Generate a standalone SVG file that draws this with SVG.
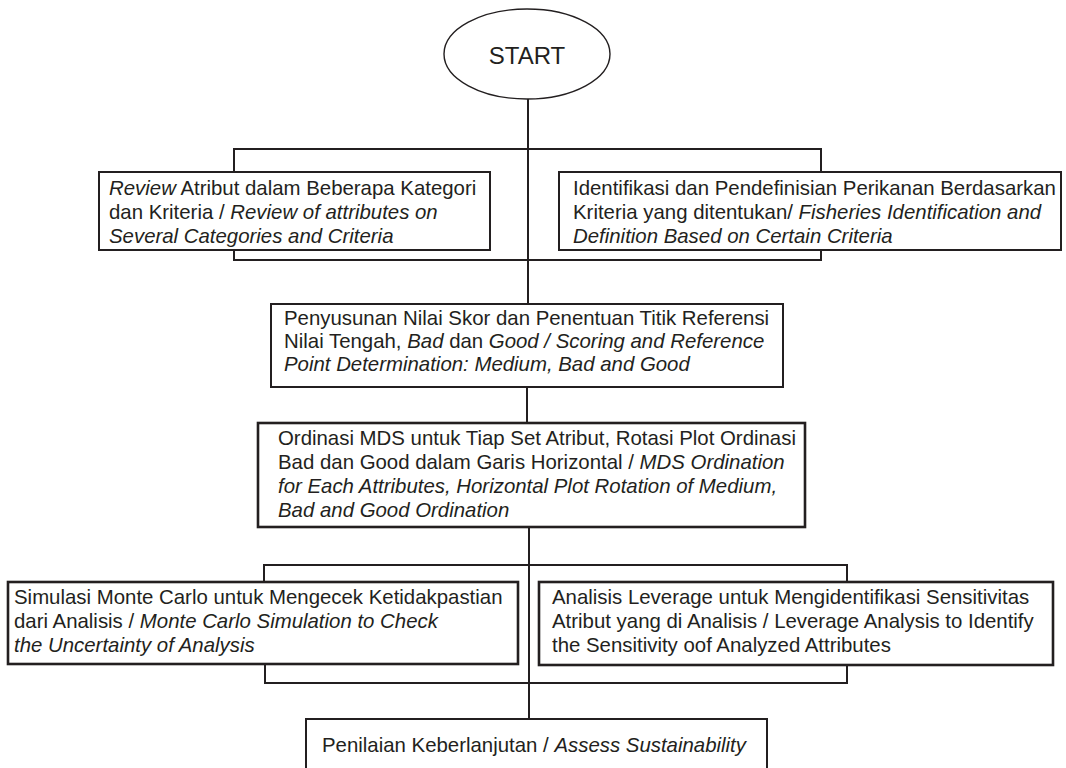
<svg xmlns="http://www.w3.org/2000/svg" width="1066" height="768" viewBox="0 0 1066 768">
  <style>
    .box { fill: #ffffff; stroke: #231f20; stroke-width: 2; }
    .box.heavy { stroke-width: 2.6; }
    .term { fill: #ffffff; stroke: #231f20; stroke-width: 1.4; }
    .wire { fill: none; stroke: #231f20; stroke-width: 2; }
    .t { font-family: "Liberation Sans", Arial, Helvetica, sans-serif; font-size: 20.4px; fill: #231f20; }
    .i { font-style: italic; }
    .start { font-family: "Liberation Sans", Arial, Helvetica, sans-serif; font-size: 24px; fill: #231f20; text-anchor: middle; }
  </style>
  <rect width="1066" height="768" fill="#ffffff"/>

  <!-- connectors: trunk, split/merge brackets between rows -->
  <g id="connectors" class="wire">
    <path d="M528 99 V304"/>
    <path d="M234 172 V149 H821 V172"/>
    <path d="M234 250 V260 H821 V250"/>
    <path d="M527 387 V423"/>
    <path d="M529 527 V719"/>
    <path d="M264 582 V565 H847 V582"/>
    <path d="M265 664 V683 H847 V665"/>
  </g>

  <g id="start">
    <ellipse class="term" cx="527" cy="54" rx="83" ry="45"/>
    <text class="start" x="527" y="64">START</text>
  </g>

  <g id="review">
    <rect class="box" x="99" y="172" width="391" height="78"/>
    <text class="t" x="109" y="195"><tspan class="i">Review</tspan> Atribut dalam Beberapa Kategori</text>
    <text class="t" x="109" y="219">dan Kriteria / <tspan class="i">Review of attributes on</tspan></text>
    <text class="t i" x="109" y="243">Several Categories and Criteria</text>
  </g>

  <g id="identifikasi">
    <rect class="box" x="559" y="172" width="502" height="78"/>
    <text class="t" x="573" y="195">Identifikasi dan Pendefinisian Perikanan Berdasarkan</text>
    <text class="t" x="573" y="219">Kriteria yang ditentukan/ <tspan class="i">Fisheries Identification and</tspan></text>
    <text class="t i" x="573" y="243">Definition Based on Certain Criteria</text>
  </g>

  <g id="penyusunan">
    <rect class="box" x="271" y="304" width="512" height="83"/>
    <text class="t" x="284" y="325">Penyusunan Nilai Skor dan Penentuan Titik Referensi</text>
    <text class="t" x="284" y="348">Nilai Tengah, <tspan class="i">Bad</tspan> dan <tspan class="i">Good / Scoring and Reference</tspan></text>
    <text class="t i" x="284" y="371">Point Determination: Medium, Bad and Good</text>
  </g>

  <g id="ordinasi">
    <rect class="box heavy" x="258" y="423" width="547" height="104"/>
    <text class="t" x="278" y="445">Ordinasi MDS untuk Tiap Set Atribut, Rotasi Plot Ordinasi</text>
    <text class="t" x="278" y="469">Bad dan Good dalam Garis Horizontal / <tspan class="i">MDS Ordination</tspan></text>
    <text class="t i" x="278" y="493">for Each Attributes, Horizontal Plot Rotation of Medium,</text>
    <text class="t i" x="278" y="517">Bad and Good Ordination</text>
  </g>

  <g id="monte-carlo">
    <rect class="box heavy" x="8" y="582" width="510" height="82"/>
    <text class="t" x="14" y="604">Simulasi Monte Carlo untuk Mengecek Ketidakpastian</text>
    <text class="t" x="14" y="628">dari Analisis / <tspan class="i">Monte Carlo Simulation to Check</tspan></text>
    <text class="t i" x="14" y="652">the Uncertainty of Analysis</text>
  </g>

  <g id="leverage">
    <rect class="box heavy" x="539" y="582" width="514" height="83"/>
    <text class="t" x="552" y="604">Analisis Leverage untuk Mengidentifikasi Sensitivitas</text>
    <text class="t" x="552" y="628">Atribut yang di Analisis / Leverage Analysis to Identify</text>
    <text class="t" x="552" y="652">the Sensitivity oof Analyzed Attributes</text>
  </g>

  <g id="sustainability">
    <rect class="box" x="306" y="719" width="461" height="60"/>
    <text class="t" x="322" y="752">Penilaian Keberlanjutan / <tspan class="i">Assess Sustainability</tspan></text>
  </g>
</svg>
